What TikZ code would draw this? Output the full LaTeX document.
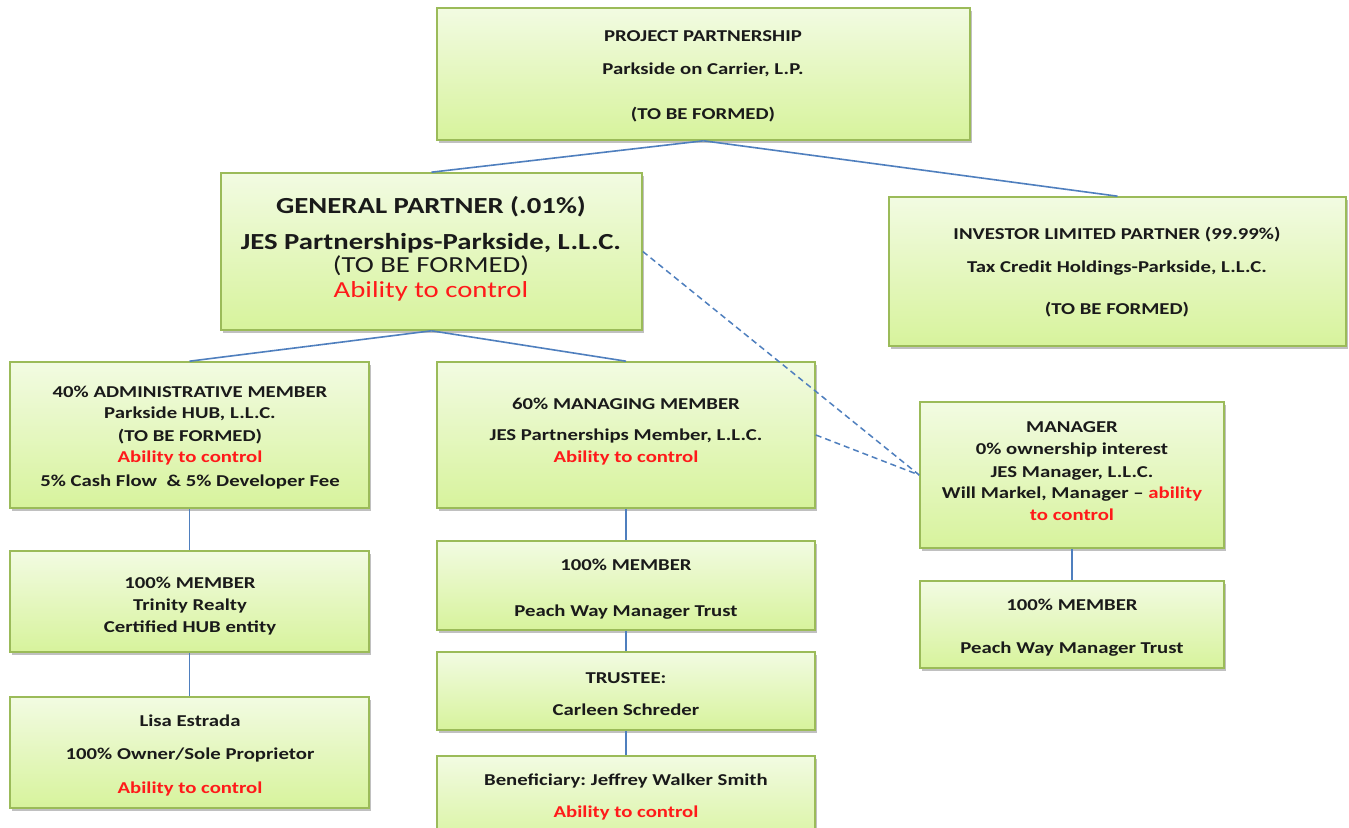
\documentclass[tikz,border=0pt]{standalone}
\usepackage{fontspec}
\setmainfont{Carlito}[FakeStretch=1.25]
\usetikzlibrary{fit,shadows}
\frenchspacing
\definecolor{boxedge}{HTML}{9BBB59}
\definecolor{boxtop}{HTML}{F2FBE2}
\definecolor{boxbot}{HTML}{D7F39C}
\definecolor{linkblue}{HTML}{4F7FBE}
\definecolor{txtdark}{HTML}{1A1A1A}
\definecolor{ctrlred}{HTML}{FF1A1A}
\tikzset{
  orgbox/.style={draw=boxedge, line width=0.8pt, top color=boxtop, bottom color=boxbot,
    inner sep=0pt, drop shadow={shadow xshift=1pt, shadow yshift=-1.5pt, opacity=0.35, fill=black!70}},
  lbl/.style={anchor=base, inner sep=0pt, text=txtdark, font=\fontsize{8.3}{10}\selectfont\bfseries},
  biglbl/.style={anchor=base, inner sep=0pt, text=txtdark, font=\fontsize{11.5}{13}\selectfont},
  red/.style={text=ctrlred},
  link/.style={draw=linkblue, line width=0.8pt},
  dlink/.style={draw=linkblue, line width=0.75pt, dash pattern=on 3pt off 2pt},
}
\begin{document}
\begin{tikzpicture}[x=0.5pt, y=-0.5pt]
\clip (0,0) rectangle (1349,828);
\fill[white] (0,0) rectangle (1349,828);

% boxes
\node[orgbox, fit={(437,8) (970,140)}] (proj) {};
\node[orgbox, fit={(221,173) (642,330)}] (gp) {};
\node[orgbox, fit={(889,197) (1346,346)}] (ilp) {};
\node[orgbox, fit={(10,362) (369,508)}] (admin) {};
\node[orgbox, fit={(437,362) (815,508)}] (mm) {};
\node[orgbox, fit={(920,402) (1224,548)}] (mgr) {};
\node[orgbox, fit={(10,551) (369,652)}] (trin) {};
\node[orgbox, fit={(10,697) (369,808)}] (lisa) {};
\node[orgbox, fit={(437,541) (815,630)}] (pwm) {};
\node[orgbox, fit={(437,652) (815,730)}] (trus) {};
\node[orgbox, fit={(437,756) (815,850)}] (ben) {};
\node[orgbox, fit={(920,581) (1224,668)}] (pwr) {};

% connectors
\draw[link] (proj.south) -- (gp.north);
\draw[link] (proj.south) -- (ilp.north);
\draw[link] (gp.south) -- (admin.north);
\draw[link] (gp.south) -- (mm.north);
\draw[dlink] (gp.east) -- (mgr.west);
\draw[dlink] (mm.east) -- (mgr.west);
\draw[link] (admin.south) -- (trin.north);
\draw[link] (trin.south) -- (lisa.north);
\draw[link] (mm.south) -- (pwm.north);
\draw[link] (pwm.south) -- (trus.north);
\draw[link] (trus.south) -- (ben.north);
\draw[link] (mgr.south) -- (pwr.north);

% project partnership
\node[lbl] (proj-a) at (703,42) {PROJECT PARTNERSHIP};
\node[lbl] (proj-b) at (703,75) {Parkside on Carrier, L.P.};
\node[lbl] (proj-c) at (703,120) {(TO BE FORMED)};

% general partner
\node[biglbl, font=\fontsize{11.5}{13}\selectfont\bfseries] (gp-a) at (431,214) {GENERAL PARTNER (.01\%)};
\node[biglbl, font=\fontsize{11.5}{13}\selectfont\bfseries] (gp-b) at (431,250) {JES Partnerships-Parkside, L.L.C.};
\node[biglbl] (gp-c) at (431,273) {(TO BE FORMED)};
\node[biglbl, red] (gp-d) at (431,298) {Ability to control};

% investor limited partner
\node[lbl] (ilp-a) at (1117,240) {INVESTOR LIMITED PARTNER (99.99\%)};
\node[lbl] (ilp-b) at (1117,273) {Tax Credit Holdings-Parkside, L.L.C.};
\node[lbl] (ilp-c) at (1117,315) {(TO BE FORMED)};

% administrative member
\node[lbl] (admin-a) at (190,398) {40\% ADMINISTRATIVE MEMBER};
\node[lbl] (admin-b) at (190,419) {Parkside HUB, L.L.C.};
\node[lbl] (admin-c) at (190,442) {(TO BE FORMED)};
\node[lbl, red] (admin-d) at (190,463) {Ability to control};
\node[lbl] (admin-e) at (190,487) {5\% Cash Flow\ \ \& 5\% Developer Fee};

% managing member
\node[lbl] (mm-a) at (626,409) {60\% MANAGING MEMBER};
\node[lbl] (mm-b) at (626,441) {JES Partnerships Member, L.L.C.};
\node[lbl, red] (mm-c) at (626,463) {Ability to control};

% manager
\node[lbl] (mgr-a) at (1072,433) {MANAGER};
\node[lbl] (mgr-b) at (1072,454) {0\% ownership interest};
\node[lbl] (mgr-c) at (1072,477) {JES Manager, L.L.C.};
\node[lbl] (mgr-d) at (1072,498) {Will Markel, Manager -- \textcolor{ctrlred}{ability}};
\node[lbl, red] (mgr-e) at (1072,520) {to control};

% left column
\node[lbl] (trin-a) at (190,588) {100\% MEMBER};
\node[lbl] (trin-b) at (190,610) {Trinity Realty};
\node[lbl] (trin-c) at (190,632) {Certified HUB entity};
\node[lbl] (lisa-a) at (190,726) {Lisa Estrada};
\node[lbl] (lisa-b) at (190,759) {100\% Owner/Sole Proprietor};
\node[lbl, red] (lisa-c) at (190,793) {Ability to control};

% middle column
\node[lbl] (pwm-a) at (626,570) {100\% MEMBER};
\node[lbl] (pwm-b) at (626,616) {Peach Way Manager Trust};
\node[lbl] (trus-a) at (626,683) {TRUSTEE:};
\node[lbl] (trus-b) at (626,715) {Carleen Schreder};
\node[lbl] (ben-a) at (626,785) {Beneficiary: Jeffrey Walker Smith};
\node[lbl, red] (ben-b) at (626,817) {Ability to control};

% right column
\node[lbl] (pwr-a) at (1072,610) {100\% MEMBER};
\node[lbl] (pwr-b) at (1072,653) {Peach Way Manager Trust};
\end{tikzpicture}
\end{document}
